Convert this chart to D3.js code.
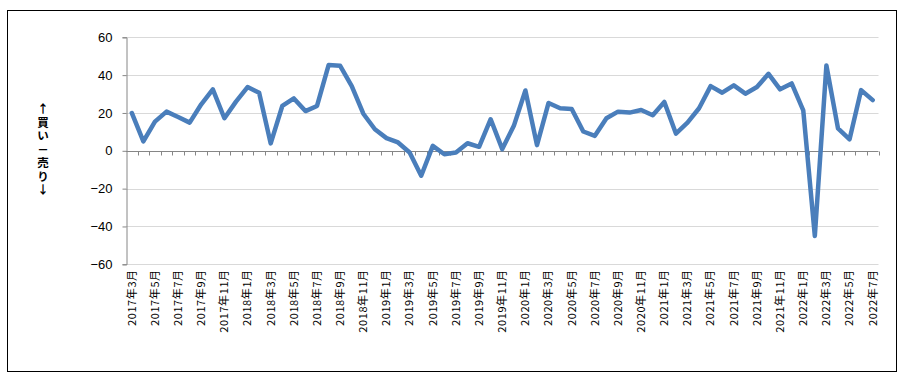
<!DOCTYPE html>
<html>
<head>
<meta charset="utf-8">
<script src="https://cdn.jsdelivr.net/npm/d3@7"></script>
<style>
  body{margin:0;background:#fff;}
  svg{display:block;}
</style>
</head>
<body>
<svg class="chart"></svg>
<script>
const categories = [
  "2017年3月","2017年4月","2017年5月","2017年6月","2017年7月","2017年8月","2017年9月","2017年10月","2017年11月","2017年12月",
  "2018年1月","2018年2月","2018年3月","2018年4月","2018年5月","2018年6月","2018年7月","2018年8月","2018年9月","2018年10月","2018年11月","2018年12月",
  "2019年1月","2019年2月","2019年3月","2019年4月","2019年5月","2019年6月","2019年7月","2019年8月","2019年9月","2019年10月","2019年11月","2019年12月",
  "2020年1月","2020年2月","2020年3月","2020年4月","2020年5月","2020年6月","2020年7月","2020年8月","2020年9月","2020年10月","2020年11月","2020年12月",
  "2021年1月","2021年2月","2021年3月","2021年4月","2021年5月","2021年6月","2021年7月","2021年8月","2021年9月","2021年10月","2021年11月","2021年12月",
  "2022年1月","2022年2月","2022年3月","2022年4月","2022年5月","2022年6月","2022年7月"
]
const values = [
  20,5,15.4,20.7,17.9,14.9,24.6,32.5,17.2,26,
  33.7,30.7,3.9,23.7,27.7,21,23.7,45.3,44.9,34.2,19.6,11.4,
  6.7,4.4,-0.9,-13.2,2.6,-1.8,-0.9,4,2.1,16.7,0.9,13.2,
  31.9,3,25.3,22.5,22.1,10.2,7.9,17.2,20.7,20.2,21.6,18.8,
  25.8,9.1,14.9,22.5,34.2,30.7,34.6,30.2,33.7,40.7,32.5,35.6,
  21.4,-45,45.1,11.9,6.1,32.1,26.8
]
const yTicks = [-60,-40,-20,0,20,40,60]
const tickLabels = categories.filter((d,i)=>i%2===0) //every other month shown
const yTitle = ["↑","買","い","－","売","り","↓"]

const W = 905, H = 382
const plot = {left:126, right:878.5, top:37.3, bottom:264.3}

let svg = d3.select(".chart")
    .attr("width", W)
    .attr("height", H)

svg.append("rect")//outer chart frame
    .attr("x",7.5).attr("y",10.5)
    .attr("width",889).attr("height",361)
    .attr("fill","#fff")
    .attr("stroke","#000")
    .attr("stroke-width",1)

let x = d3.scaleBand()
    .domain(categories)
    .range([plot.left, plot.right])
    .padding(0)
let xEdge = d3.scaleLinear()//category boundaries for tick marks
    .domain([0, categories.length])
    .range([plot.left, plot.right])
let y = d3.scaleLinear()
    .domain([-60,60])
    .range([plot.bottom, plot.top])

//gridlines
svg.append("g")
  .selectAll("line")
  .data(yTicks.filter(d=>d!==0))
  .enter().append("line")
    .attr("x1",plot.left).attr("x2",plot.right)
    .attr("y1",d=>Math.round(y(d))+0.5).attr("y2",d=>Math.round(y(d))+0.5)
    .attr("stroke","#d9d9d9")
    .attr("stroke-width",1)

//y axis
let yAxis = d3.axisLeft(y)
    .tickValues(yTicks)
    .tickSize(4)
    .tickPadding(10)
let yg = svg.append("g")
    .attr("transform","translate(" + (plot.left+0.5) + ",0)")
    .call(yAxis)
yg.select(".domain").attr("stroke","#868686")
yg.selectAll(".tick line").attr("stroke","#868686")
yg.selectAll(".tick text")
    .attr("fill","#000")
    .style("font-family","'Liberation Sans', Arial, sans-serif")
    .style("font-size","13px")

//x axis line at zero with ticks between categories
let zeroY = Math.round(y(0))+0.5
svg.append("line")
    .attr("x1",plot.left).attr("x2",plot.right)
    .attr("y1",zeroY).attr("y2",zeroY)
    .attr("stroke","#868686")
svg.append("g")
  .selectAll("line")
  .data(d3.range(1, categories.length+1))
  .enter().append("line")
    .attr("x1",d=>Math.round(xEdge(d))+0.5).attr("x2",d=>Math.round(xEdge(d))+0.5)
    .attr("y1",zeroY).attr("y2",zeroY+4)
    .attr("stroke","#868686")

//category labels below the plot, rotated
svg.append("g")
  .selectAll("text")
  .data(tickLabels)
  .enter().append("text")
    .attr("transform",d=>"translate(" + (x(d)+x.bandwidth()/2) + "," + (plot.bottom+5) + ") rotate(-90)")
    .attr("dy","0.35em")
    .attr("text-anchor","end")
    .style("font-family","'Noto Sans CJK JP', sans-serif")
    .style("font-size","11px")
    .style("letter-spacing","0.6px")
    .attr("fill","#000")
    .text(d=>d)

//series line
let line = d3.line()
    .x((d,i)=>x(categories[i])+x.bandwidth()/2)
    .y(d=>y(d))
svg.append("path")
    .datum(values)
    .attr("d",line)
    .attr("fill","none")
    .attr("stroke","#4a7ebb")
    .attr("stroke-width",4.5)
    .attr("stroke-linejoin","round")
    .attr("stroke-linecap","round")

//vertical y title, one glyph per row
svg.append("g")
  .selectAll("text")
  .data(yTitle)
  .enter().append("text")
    .attr("x",43)
    .attr("y",(d,i)=>108+i*13.5)
    .attr("text-anchor","middle")
    .attr("dominant-baseline","central")
    .style("font-family","'Noto Sans CJK JP', sans-serif")
    .style("font-size","11.5px")
    .style("font-weight","bold")
    .attr("fill","#000")
    .text(d=>d)
</script>
</body>
</html>
